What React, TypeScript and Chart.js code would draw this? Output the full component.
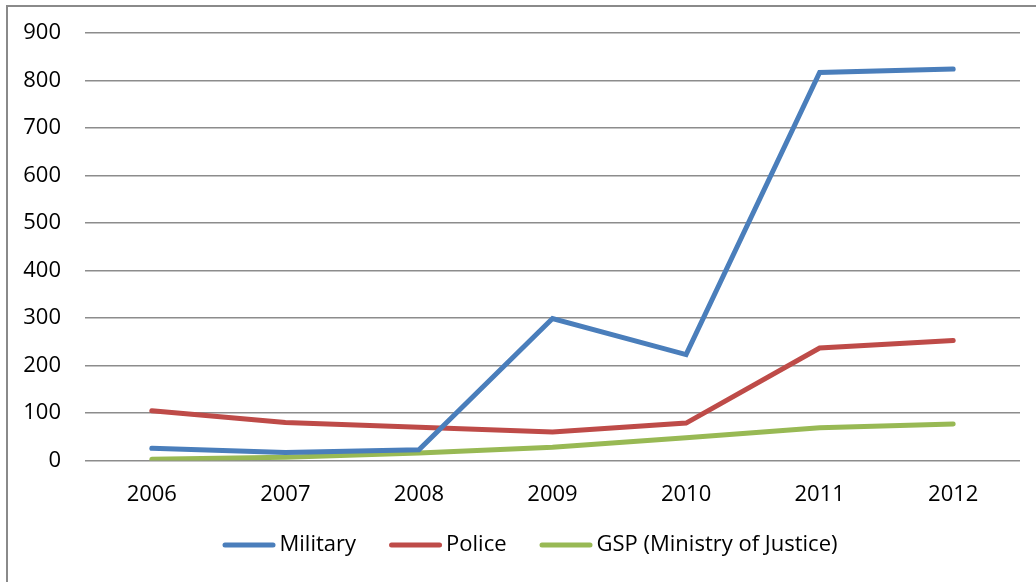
import React, { useEffect, useRef } from "react";
import { Chart, registerables } from "chart.js";

Chart.register(...registerables);

const categories = ["2006", "2007", "2008", "2009", "2010", "2011", "2012"];
const military = [26, 17, 23, 299, 223, 817, 824];
const police = [105, 80, 70, 60, 79, 237, 253];
const gsp = [3, 7, 16, 28, 48, 69, 77];
const seriesNames = ["Military", "Police", "GSP (Ministry of Justice)"];
const seriesColors = ["#4a7ebb", "#be4b48", "#98b954"];

const FONT = '"Open Sans", "Noto Sans", sans-serif';

const framePlugin = {
  id: "frame",
  beforeDraw(chart: any) {
    const ctx = chart.ctx;
    ctx.save();
    ctx.fillStyle = "#ffffff";
    ctx.fillRect(0, 0, chart.width, chart.height);
    ctx.fillStyle = "#8a8a8a";
    ctx.fillRect(6, 5, chart.width, 2);
    ctx.fillRect(6, 5, 2, chart.height);
    ctx.restore();
  },
};

const legendPlugin = {
  id: "bottomLegend",
  afterDraw(chart: any) {
    const ctx = chart.ctx;
    const lineLen = 53;
    const gapText = 4;
    const gapItem = 33;
    const y = 545;
    ctx.save();
    ctx.font = `22px ${FONT}`;
    const widths = chart.data.datasets.map((d: any) => ctx.measureText(d.label).width);
    let total = 0;
    widths.forEach((w: number, i: number) => {
      total += lineLen + gapText + w + (i < widths.length - 1 ? gapItem : 0);
    });
    let x = 530 - total / 2;
    chart.data.datasets.forEach((d: any, i: number) => {
      ctx.strokeStyle = d.borderColor;
      ctx.lineWidth = 5;
      ctx.lineCap = "round";
      ctx.beginPath();
      ctx.moveTo(x + 2.5, y);
      ctx.lineTo(x + lineLen - 2.5, y);
      ctx.stroke();
      ctx.fillStyle = "#000000";
      ctx.textBaseline = "middle";
      ctx.textAlign = "left";
      ctx.fillText(d.label, x + lineLen + gapText, y);
      x += lineLen + gapText + widths[i] + gapItem;
    });
    ctx.restore();
  },
};

export default function App() {
  const ref = useRef<HTMLCanvasElement | null>(null);

  useEffect(() => {
    if (!ref.current) return;
    const values = [military, police, gsp];
    const chart = new Chart(ref.current, {
      type: "line",
      data: {
        labels: categories,
        datasets: values.map((v, i) => ({
          label: seriesNames[i],
          data: v,
          borderColor: seriesColors[i],
          backgroundColor: seriesColors[i],
          borderWidth: 5,
          borderCapStyle: "round",
          borderJoinStyle: "miter",
          pointRadius: 0,
          pointHoverRadius: 0,
          tension: 0,
          fill: false,
        })),
      },
      options: {
        responsive: false,
        animation: false,
        devicePixelRatio: 1,
        layout: { padding: { top: 33, right: 16, bottom: 53, left: 0 } },
        plugins: {
          legend: { display: false },
          tooltip: { enabled: false },
        },
        scales: {
          x: {
            offset: true,
            grid: { display: false, drawTicks: false },
            border: { display: false },
            ticks: {
              padding: 21,
              color: "#000000",
              font: { family: FONT, size: 22 },
              maxRotation: 0,
            },
          },
          y: {
            min: 0,
            max: 900,
            afterFit(axis: any) {
              axis.width = 85;
              axis.paddingTop = 0;
              axis.paddingBottom = 0;
            },
            grid: { color: "#8c8c8c", lineWidth: 1.5, drawTicks: false },
            border: { display: false },
            ticks: {
              stepSize: 100,
              padding: 24,
              color: "#000000",
              font: { family: FONT, size: 22 },
            },
          },
        },
      },
      plugins: [framePlugin, legendPlugin],
    });
    return () => chart.destroy();
  }, []);

  return (
    <div style={{ position: "fixed", left: 0, top: 0, width: 1036, height: 582, background: "#fff" }}>
      <canvas ref={ref} width={1036} height={582} style={{ display: "block" }} />
    </div>
  );
}
